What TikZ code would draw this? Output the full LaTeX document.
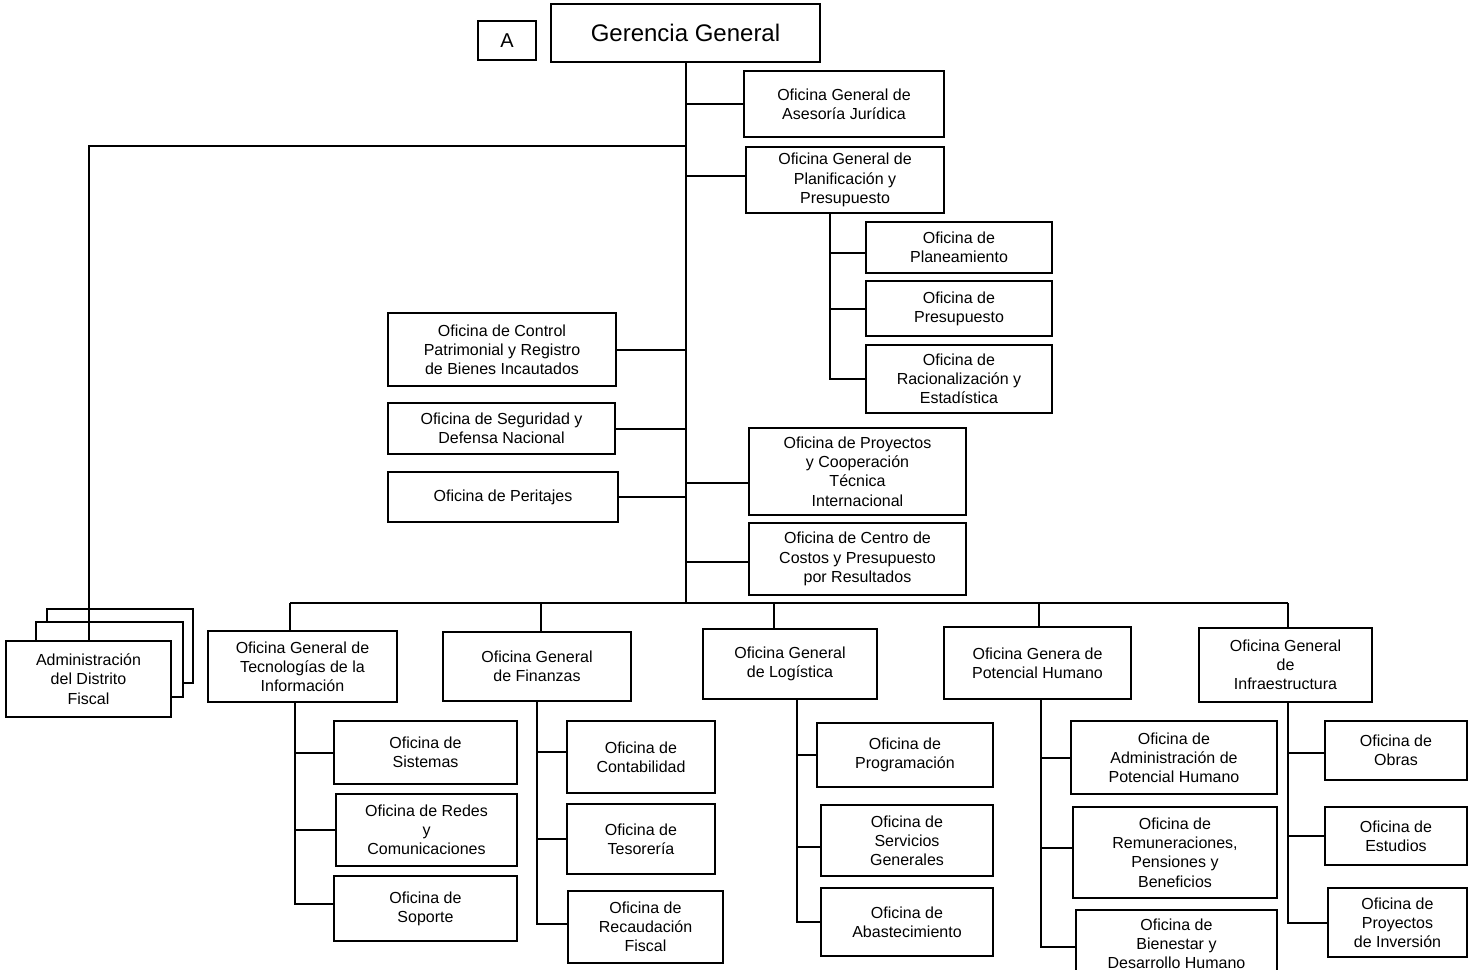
\documentclass[tikz,border=0pt]{standalone}
\usepackage{fontspec}
\setmainfont{Liberation Sans}
% \OBox[options]{name}{x1}{y1}{x2}{y2}{text}: box given by its corners
\newcommand\OBox[7][]{%
  \node[box, minimum width={(#5-#3)*0.5pt}, minimum height={(#6-#4)*0.5pt}, #1]
    (#2) at ({(#3+#5)/2},{(#4+#6)/2}) {#7};}
\begin{document}
\begin{tikzpicture}[x=0.5pt,y=-0.5pt,
  box/.style={draw=black, line width=1pt, fill=white, align=center, inner sep=0pt,
              font=\fontsize{8}{9.6}\selectfont},
  link/.style={draw=black, line width=1pt},
  back/.style={draw=black, line width=1pt, fill=white}]
\useasboundingbox (0,0) rectangle (1469,970);
\clip (0,0) rectangle (1469,970);

% stacked district administrations
\draw[back] (47,609) rectangle (193,683);
\draw[back] (36,622) rectangle (183,697);

% top level
\OBox[font=\fontsize{10}{12}\selectfont]{a}{478}{21}{536}{60}{A}
\OBox[font=\fontsize{12}{14}\selectfont]{gg}{551}{4}{820}{62}{Gerencia General}

% advisory and support offices
\OBox{ase}{744}{71}{944}{137}{Oficina General de\\Asesoría Jurídica}
\OBox{pla}{746}{147}{944}{213}{Oficina General de\\Planificación y\\Presupuesto}
\OBox{plan}{866}{222}{1052}{273}{Oficina de\\Planeamiento}
\OBox{pre}{866}{281}{1052}{336}{Oficina de\\Presupuesto}
\OBox{rac}{866}{345}{1052}{413}{Oficina de\\Racionalización y\\Estadística}
\OBox{ctl}{388}{313}{616}{386}{Oficina de Control\\Patrimonial y Registro\\de Bienes Incautados}
\OBox{seg}{388}{403}{615}{454}{Oficina de Seguridad y\\Defensa Nacional}
\OBox{per}{388}{472}{618}{522}{Oficina de Peritajes}
\OBox{pyt}{749}{428}{966}{515}{Oficina de Proyectos\\y Cooperación\\Técnica\\Internacional}
\OBox{cen}{749}{523}{966}{595}{Oficina de Centro de\\Costos y Presupuesto\\por Resultados}

% district administration
\OBox{adm}{6}{641}{171}{717}{Administración\\del Distrito\\Fiscal}

% line offices
\OBox{tec}{208}{631}{397}{702}{Oficina General de\\Tecnologías de la\\Información}
\OBox{sis}{334}{721}{517}{784}{Oficina de\\Sistemas}
\OBox{red}{336}{794}{517}{866}{Oficina de Redes\\y\\Comunicaciones}
\OBox{sop}{334}{876}{517}{941}{Oficina de\\Soporte}

\OBox{fin}{443}{632}{631}{701}{Oficina General\\de Finanzas}
\OBox{con}{567}{721}{715}{793}{Oficina de\\Contabilidad}
\OBox{tes}{567}{804}{715}{874}{Oficina de\\Tesorería}
\OBox{rec}{568}{891}{723}{963}{Oficina de\\Recaudación\\Fiscal}

\OBox{log}{703}{629}{877}{699}{Oficina General\\de Logística}
\OBox{prg}{817}{723}{993}{787}{Oficina de\\Programación}
\OBox{ser}{821}{805}{993}{876}{Oficina de\\Servicios\\Generales}
\OBox{aba}{821}{888}{993}{956}{Oficina de\\Abastecimiento}

\OBox{pot}{944}{627}{1131}{699}{Oficina Genera de\\Potencial Humano}
\OBox{apo}{1071}{721}{1277}{794}{Oficina de\\Administración de\\Potencial Humano}
\OBox{rem}{1073}{807}{1277}{898}{Oficina de\\Remuneraciones,\\Pensiones y\\Beneficios}
\OBox{bie}{1076}{910}{1277}{978}{Oficina de\\Bienestar y\\Desarrollo Humano}

\OBox{inf}{1199}{628}{1372}{702}{Oficina General\\de\\Infraestructura}
\OBox{obr}{1325}{721}{1467}{780}{Oficina de\\Obras}
\OBox{est}{1325}{807}{1467}{865}{Oficina de\\Estudios}
\OBox{pin}{1328}{888}{1467}{957}{Oficina de\\Proyectos\\de Inversión}

% main trunk
\coordinate (trunk) at (686,603);
\draw[link] (gg.south) -- (gg.south |- trunk);
\coordinate (admj) at (686,146);
\draw[link] (admj) -| (adm.north);
\draw[link] (ase.west) -- (ase.west -| trunk);
\draw[link] ([yshift=2pt]pla.west) -- ([yshift=2pt]pla.west -| trunk);
\draw[link] (ctl.east) -- (ctl.east -| trunk);
\draw[link] (seg.east) -- (seg.east -| trunk);
\draw[link] (per.east) -- (per.east -| trunk);
\draw[link] ([yshift=-5.5pt]pyt.west) -- ([yshift=-5.5pt]pyt.west -| trunk);
\draw[link] ([yshift=-1.5pt]cen.west) -- ([yshift=-1.5pt]cen.west -| trunk);

% planning sub-offices
\coordinate (ps) at (830,0);
\draw[link] (pla.south -| ps) |- (rac.west);
\draw[link] ([yshift=-2.5pt]plan.west) -- ([yshift=-2.5pt]plan.west -| ps);
\draw[link] (pre.west) -- (pre.west -| ps);

% bus to the general offices
\coordinate (b1) at (290,603);
\coordinate (b2) at (541,603);
\coordinate (b3) at (774,603);
\coordinate (b4) at (1039,603);
\coordinate (b5) at (1288,603);
\draw[link] (b1) -- (b5);
\draw[link] (b1) -- (tec.north -| b1);
\draw[link] (b2) -- (fin.north -| b2);
\draw[link] (b3) -- (log.north -| b3);
\draw[link] (b4) -- (pot.north -| b4);
\draw[link] (b5) -- (inf.north -| b5);

% technology
\coordinate (ts) at (295,0);
\draw[link] (tec.south -| ts) |- ([yshift=2.5pt]sop.west);
\draw[link] (sis.west) -- (sis.west -| ts);
\draw[link] (red.west) -- (red.west -| ts);

% finance
\coordinate (fs) at (537,0);
\draw[link] (fin.south -| fs) |- ([yshift=1.5pt]rec.west);
\draw[link] ([yshift=2.5pt]con.west) -- ([yshift=2.5pt]con.west -| fs);
\draw[link] (tes.west) -- (tes.west -| fs);

% logistics
\coordinate (ls) at (797,0);
\draw[link] (log.south -| ls) |- (aba.west);
\draw[link] (prg.west) -- (prg.west -| ls);
\draw[link] ([yshift=-3pt]ser.west) -- ([yshift=-3pt]ser.west -| ls);

% human resources
\coordinate (hs) at (1041,0);
\draw[link] (pot.south -| hs) |- ([yshift=-1.5pt]bie.west);
\draw[link] (apo.west) -- (apo.west -| hs);
\draw[link] ([yshift=2.5pt]rem.west) -- ([yshift=2.5pt]rem.west -| hs);

% infrastructure
\coordinate (is) at (1288,0);
\draw[link] (inf.south -| is) |- (pin.west);
\draw[link] ([yshift=-1pt]obr.west) -- ([yshift=-1pt]obr.west -| is);
\draw[link] (est.west) -- (est.west -| is);
\end{tikzpicture}
\end{document}
